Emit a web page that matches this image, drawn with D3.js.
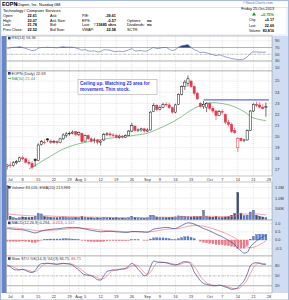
<!DOCTYPE html>
<html><head><meta charset="utf-8">
<script src="https://cdn.jsdelivr.net/npm/d3@7"></script>
<style>body{margin:0;background:#fff}svg{display:block}text{font-family:"Liberation Sans",Arial,sans-serif}</style>
</head><body><svg id="c" width="289" height="300"></svg>
<script>
// ---------- DATA ----------
const dates = ["2013-06-28",
"2013-07-01","2013-07-02","2013-07-03","2013-07-05","2013-07-08","2013-07-09","2013-07-10","2013-07-11","2013-07-12","2013-07-15","2013-07-16","2013-07-17","2013-07-18","2013-07-19","2013-07-22","2013-07-23","2013-07-24","2013-07-25","2013-07-26","2013-07-29","2013-07-30","2013-07-31",
"2013-08-01","2013-08-02","2013-08-05","2013-08-06","2013-08-07","2013-08-08","2013-08-09","2013-08-12","2013-08-13","2013-08-14","2013-08-15","2013-08-16","2013-08-19","2013-08-20","2013-08-21","2013-08-22","2013-08-23","2013-08-26","2013-08-27","2013-08-28","2013-08-29","2013-08-30",
"2013-09-03","2013-09-04","2013-09-05","2013-09-06","2013-09-09","2013-09-10","2013-09-11","2013-09-12","2013-09-13","2013-09-16","2013-09-17","2013-09-18","2013-09-19","2013-09-20","2013-09-23","2013-09-24","2013-09-25","2013-09-26","2013-09-27","2013-09-30",
"2013-10-01","2013-10-02","2013-10-03","2013-10-04","2013-10-07","2013-10-08","2013-10-09","2013-10-10","2013-10-11","2013-10-14","2013-10-15","2013-10-16","2013-10-17","2013-10-18","2013-10-21","2013-10-22","2013-10-23","2013-10-24","2013-10-25"];
const open = [17.30,17.45,17.40,17.65,17.75,18.10,18.00,17.70,17.60,17.95,17.85,19.30,19.50,19.80,19.60,19.50,19.55,19.45,19.80,20.10,20.25,20.30,20.45,20.20,20.30,19.60,20.10,19.80,19.65,19.70,19.50,19.70,20.20,20.25,20.15,20.10,19.95,20.05,19.95,20.10,20.50,20.95,20.55,20.60,20.70,20.50,20.60,22.25,22.80,22.45,22.60,22.90,22.85,22.60,22.20,22.90,23.80,24.50,24.80,25.00,24.50,23.90,23.00,22.70,22.60,23.00,22.55,22.30,21.90,22.25,22.00,21.30,21.10,20.55,19.00,19.85,19.65,19.70,20.55,22.30,22.90,22.85,22.65,22.61];
const high = [17.55,17.70,17.80,17.90,18.20,18.30,18.10,17.95,17.80,18.05,19.40,19.70,19.75,19.85,19.75,19.70,19.65,19.90,20.30,20.40,20.45,20.55,20.50,20.45,20.35,20.20,20.20,19.95,19.90,19.80,19.70,20.35,20.40,20.40,20.30,20.25,20.20,20.15,20.20,20.60,21.25,21.00,20.75,20.80,20.80,20.75,22.30,23.00,22.90,22.80,23.05,23.10,23.05,22.70,22.95,23.90,24.60,25.10,25.50,25.05,24.60,24.05,23.10,23.20,23.10,23.05,22.75,22.40,22.40,22.45,22.10,21.50,21.25,20.80,19.95,19.90,19.80,20.65,22.40,23.00,23.15,23.10,22.95,23.07];
const low = [17.05,17.20,17.30,17.50,17.70,17.85,17.60,17.45,17.05,17.30,17.80,19.20,19.30,19.50,19.35,19.40,19.30,19.40,19.70,19.90,20.10,20.20,20.05,20.05,19.40,19.55,19.70,19.45,19.40,19.30,19.20,19.60,20.05,20.00,19.95,19.85,19.80,19.85,19.90,20.05,20.40,20.45,20.40,20.45,20.35,20.40,20.55,22.20,22.30,22.35,22.55,22.70,22.50,22.05,22.10,22.85,23.70,24.20,24.50,24.40,23.70,23.30,22.60,22.50,22.20,22.40,22.10,21.50,21.85,22.00,21.10,20.90,20.30,20.25,18.60,19.55,19.50,19.65,20.50,22.20,22.65,22.55,22.45,21.78];
const close = [17.45,17.40,17.65,17.75,18.10,18.00,17.70,17.60,17.25,17.85,19.25,19.55,19.50,19.70,19.50,19.55,19.45,19.80,20.15,20.25,20.30,20.40,20.20,20.35,19.55,20.10,19.80,19.60,19.70,19.50,19.60,20.20,20.25,20.15,20.10,19.95,20.05,19.95,20.10,20.50,21.00,20.55,20.60,20.70,20.50,20.60,22.20,22.80,22.45,22.60,22.90,22.85,22.60,22.20,22.85,23.80,24.50,24.90,25.20,24.50,23.90,23.40,22.70,22.90,23.00,22.55,22.30,21.90,22.25,22.20,21.30,21.10,20.45,20.35,19.85,19.65,19.70,20.55,22.30,22.90,22.80,22.65,22.52,22.69];
const ma50 = [null,null,null,null,null,null,null,17.10,17.25,17.40,17.58,17.75,17.92,18.08,18.25,18.42,18.58,18.75,18.88,19.00,19.10,19.20,19.28,19.36,19.42,19.48,19.54,19.60,19.65,19.70,19.74,19.78,19.82,19.86,19.89,19.92,19.95,19.98,20.01,20.04,20.08,20.12,20.16,20.20,20.24,20.30,20.40,20.52,20.64,20.76,20.88,21.02,21.16,21.30,21.46,21.62,21.80,22.00,22.20,22.38,22.54,22.68,22.80,22.90,22.98,23.03,23.05,23.04,23.01,22.97,22.92,22.86,22.78,22.68,22.55,22.40,22.25,22.05,21.82,21.68,21.60,21.53,21.48,21.44];
const volume = [1600,150,90,60,80,120,100,90,110,150,280,260,140,120,100,90,80,110,120,100,80,90,100,90,140,100,80,90,70,80,70,110,90,80,70,90,60,70,60,80,150,110,80,70,60,80,200,190,120,100,110,90,100,110,120,170,160,150,130,120,140,130,150,430,150,120,110,150,100,90,120,140,200,280,1270,300,180,200,350,430,200,150,120,84];
const volEma = [260,250,235,220,205,195,185,175,170,165,175,180,175,170,162,155,148,143,140,135,130,125,122,118,120,118,114,111,107,104,100,101,100,98,95,95,91,89,86,86,92,94,92,90,87,86,97,106,107,107,108,106,106,107,108,114,118,121,122,122,124,125,128,157,156,152,148,148,144,139,137,137,143,156,262,265,257,252,260,275,262,245,228,214];
const rsi = [66,69,70.5,71,72,70,67,64,61,62,68,70,70,71,70,70,69,71,72,71,71,71,69,66,62,64,60,59,60,57,58,63,63,62,59,58,59,58,60,63,66,60,60,61,59,60,66,70,67,68,70,70,65,61,64,71,75,77,78,70,64,60,55,56,54,51,49,46,48,46,42,40,37,36,34,34,36,42,52,57,57,56,56,56.36];
const macd = [0.70,0.68,0.66,0.64,0.63,0.62,0.58,0.53,0.47,0.43,0.48,0.55,0.60,0.63,0.65,0.67,0.68,0.70,0.73,0.75,0.76,0.77,0.76,0.75,0.70,0.67,0.63,0.59,0.56,0.52,0.50,0.51,0.52,0.53,0.52,0.50,0.49,0.47,0.46,0.47,0.52,0.52,0.51,0.50,0.48,0.47,0.56,0.66,0.70,0.72,0.75,0.77,0.75,0.70,0.70,0.78,0.88,0.98,1.05,1.03,0.97,0.89,0.79,0.70,0.63,0.55,0.46,0.36,0.28,0.20,0.09,-0.02,-0.15,-0.28,-0.50,-0.66,-0.80,-0.75,-0.42,-0.22,-0.05,0.08,0.19,0.294];
const signal = [0.78,0.76,0.74,0.72,0.70,0.68,0.66,0.64,0.61,0.58,0.56,0.56,0.57,0.58,0.59,0.61,0.62,0.64,0.65,0.67,0.69,0.71,0.72,0.73,0.72,0.71,0.70,0.68,0.66,0.63,0.61,0.59,0.57,0.56,0.55,0.54,0.53,0.52,0.51,0.50,0.50,0.50,0.50,0.50,0.50,0.49,0.50,0.53,0.56,0.59,0.62,0.65,0.67,0.68,0.68,0.70,0.74,0.78,0.84,0.87,0.89,0.89,0.87,0.84,0.80,0.75,0.69,0.63,0.56,0.49,0.41,0.33,0.23,0.13,0.01,-0.15,-0.30,-0.42,-0.47,-0.45,-0.38,-0.28,-0.17,-0.053];
const stoK = [83,78,70,68,68,70,66,62,60,66,80,87,88,88,87,86,85,87,88,87,86,82,75,68,58,53,52,50,45,38,37,50,63,66,68,68,70,71,73,80,88,82,70,60,50,55,78,95,93,90,91,90,87,84,83,86,91,93,92,84,62,48,35,27,24,22,20,20,22,20,16,13,9,10,14,24,35,55,80,88,90,88,85,84.75];
const stoD = [80,80,77,72,69,69,68,66,63,63,69,78,85,88,88,87,86,86,87,87,87,85,81,75,67,60,54,52,49,44,40,42,50,60,66,67,69,70,71,75,80,83,80,71,60,55,61,76,89,93,91,90,89,87,85,84,87,90,92,90,79,65,48,37,29,24,22,21,21,21,19,16,13,11,11,16,24,38,57,74,86,89,88,86.71];
const tickDates = ["2013-07-01","2013-07-08","2013-07-15","2013-07-22","2013-07-29","2013-08-01","2013-08-05","2013-08-12","2013-08-19","2013-08-26","2013-09-03","2013-09-09","2013-09-16","2013-09-23","2013-10-01","2013-10-07","2013-10-14","2013-10-21","2013-10-28"];
const tickLabels = ["Jul","8","15","22","29","Aug","5","12","19","26","Sep","9","16","23","Oct","7","14","21","28"];
const priceTicks = [17,18,19,20,21,22,23,24,25];
const rsiTicks = [90,70,50,30,10];
const volTicks = [500000,1000000,1500000];
const volTickLabels = ["500K","1.0M","1.5M"];
const macdTicks = [1.0,0.5,0.0,-0.5];
const stoTicks = [80,50,20];
const resistance = {from:"2013-09-27", to:"2013-10-28", level:23.3};
const note = ["Ceiling up. Watching 23 area for","movement. Thin stock."];

// ---------- LAYOUT ----------
const svg = d3.select("#c");
const PL = 6.5, PR = 272;
const x = d3.scaleLinear().domain([0, 84]).range([7.1, 269]);
const idx = d => { const i = dates.indexOf(d); return i < 0 ? dates.length : i; };
const P = {
  rsi:{top:36,bot:71}, price:{top:71,bot:176}, vol:{top:182,bot:220},
  macd:{top:220,bot:256}, sto:{top:256,bot:293}
};
const yR = d3.scaleLinear().domain([0,100]).range([71.1,37.4]);
const yP = d3.scaleLinear().domain([17,25]).range([170,81]);
const yV = d3.scaleLinear().domain([0,1500000]).range([219.5,187.5]);
const yM = d3.scaleLinear().domain([0,1]).range([240,223.6]);
const yS = d3.scaleLinear().domain([0,100]).range([292.3,259.4]);

const NAVY = "#2b3f7a", RED = "#e8364a", PINK = "#f07a88", GREEN = "#3c9a3c";

// frame
svg.append("rect").attr("x",0.5).attr("y",0.5).attr("width",288).attr("height",299).attr("fill","#fff").attr("stroke","#a9bbdc");
svg.append("rect").attr("x",1.5).attr("y",36).attr("width",5).attr("height",257).attr("fill","#6586cc");
svg.append("rect").attr("x",PR).attr("y",36).attr("width",16).attr("height",257).attr("fill","#cfdcf2");
svg.append("rect").attr("x",1).attr("y",293).attr("width",287).attr("height",6.5).attr("fill","#fff");
svg.append("clipPath").attr("id","clip").append("rect").attr("x",PL).attr("y",36).attr("width",PR-PL).attr("height",257);

function panelBase(p, yTicks, yScale, fmt){
  const g = svg.append("g");
  g.append("rect").attr("x",PL).attr("y",p.top).attr("width",PR-PL).attr("height",p.bot-p.top).attr("fill","#fff");
  g.selectAll(null).data(tickDates).enter().append("line")
    .attr("x1",d=>x(idx(d))).attr("x2",d=>x(idx(d))).attr("y1",p.top).attr("y2",p.bot)
    .attr("stroke","#c8c8c8").attr("stroke-width",0.5).attr("stroke-dasharray","1,1");
  if (yTicks){
    g.selectAll(null).data(yTicks).enter().append("line")
      .attr("x1",PL).attr("x2",PR).attr("y1",d=>yScale(d)).attr("y2",d=>yScale(d))
      .attr("stroke","#c8c8c8").attr("stroke-width",0.5).attr("stroke-dasharray","1,1");
    svg.selectAll(null).data(yTicks).enter().append("text")
      .attr("x",275).attr("y",d=>yScale(d)+1.4).attr("font-size",3.9).attr("fill","#333")
      .text((d,i)=>fmt(d,i));
  }
  return g;
}
function frame(p){
  svg.append("rect").attr("x",PL).attr("y",p.top).attr("width",PR-PL).attr("height",p.bot-p.top)
    .attr("fill","none").attr("stroke","#8a8a8a").attr("stroke-width",0.5);
}
function legend(yy, parts){
  svg.append("rect").attr("x",8).attr("y",yy-2.6).attr("width",2.6).attr("height",2.6).attr("fill",NAVY);
  const t = svg.append("text").attr("x",11.5).attr("y",yy).attr("font-size",3.9);
  parts.forEach(p=>t.append("tspan").attr("fill",p[1]).text(p[0]));
}
const line = (ys, arr) => d3.line().defined(d=>d!=null).x((d,i)=>x(i)).y(d=>ys(d))(arr);

// ---------- HEADER ----------
const hd = svg.append("g");
hd.append("rect").attr("x",1).attr("y",7.5).attr("width",286).attr("height",27.5).attr("fill","#fff").attr("stroke","#b9c7e3").attr("stroke-width",0.5);
hd.append("text").attr("x",2).attr("y",5.8).attr("font-size",5.4).attr("font-weight","bold").text("EOPN");
hd.append("text").attr("x",15.5).attr("y",5.8).attr("font-size",4).text("E2open, Inc.  Nasdaq GM");
hd.append("text").attr("x",273).attr("y",4.2).attr("font-size",3.6).attr("text-anchor","end").attr("fill","#5d74a8").text("©StockCharts.com");
hd.append("text").attr("x",3).attr("y",12.2).attr("font-size",4).text("Technology / Computer Services");
const rows = [17.2,21.8,26.4,31];
const c1 = [["Open:","22.61"],["High:","23.07"],["Low:","21.78"],["Prev Close:","22.52"]];
const c2 = ["Ask:","Ask Size:","Bid:","Bid Size:"];
const c3 = [["P/E:","-39.61"],["EPS:","-0.57"],["Last:","15685 shrs"],["VWAP:","22.58"]];
const c4 = [["",""],["Options:","no"],["Dividends:","no"],["SCTR:",""]];
rows.forEach((yy,i)=>{
  hd.append("text").attr("x",3).attr("y",yy).attr("font-size",3.8).text(c1[i][0]);
  hd.append("text").attr("x",37).attr("y",yy).attr("font-size",3.8).attr("font-weight","bold").attr("text-anchor","end").text(c1[i][1]);
  hd.append("text").attr("x",50).attr("y",yy).attr("font-size",3.8).text(c2[i]);
  hd.append("text").attr("x",82).attr("y",yy).attr("font-size",3.8).text(c3[i][0]);
  if(i==2){
    hd.append("text").attr("x",93).attr("y",yy).attr("font-size",3.8).attr("fill","#2a9a2a").text("⇑");
  }
  hd.append("text").attr("x",116).attr("y",yy).attr("font-size",3.8).attr("font-weight","bold").attr("text-anchor","end").text(c3[i][1]);
  hd.append("text").attr("x",127).attr("y",yy).attr("font-size",3.8).text(c4[i][0]);
  hd.append("text").attr("x",147).attr("y",yy).attr("font-size",3.8).attr("font-weight","bold").text(c4[i][1]);
});
hd.append("text").attr("x",274).attr("y",10).attr("font-size",3.8).attr("text-anchor","end").text("Friday 25-Oct-2013");
hd.append("path").attr("d","M252,15.6 L254,12.2 L256,15.6 Z").attr("fill","#1f8f1f");
hd.append("text").attr("x",274).attr("y",15.6).attr("font-size",3.9).attr("font-weight","bold").attr("text-anchor","end").attr("fill","#1f8f1f").text("+0.75%");
[["Chg:","+0.17",21.3],["Last:","22.69",26.6],["Volume:","83,816",32]].forEach(r=>{
  hd.append("text").attr("x",249).attr("y",r[2]).attr("font-size",3.3).text(r[0]);
  hd.append("text").attr("x",274).attr("y",r[2]).attr("font-size",3.7).attr("font-weight","bold").attr("text-anchor","end").text(r[1]);
});

// ---------- RSI ----------
panelBase(P.rsi, rsiTicks, yR, d=>d);
const gr = svg.append("g").attr("clip-path","url(#clip)");
[70,30].forEach(l=>gr.append("line").attr("x1",PL).attr("x2",PR).attr("y1",yR(l)).attr("y2",yR(l)).attr("stroke","#888").attr("stroke-width",0.6));
gr.append("line").attr("x1",PL).attr("x2",PR).attr("y1",yR(50)).attr("y2",yR(50)).attr("stroke","#888").attr("stroke-width",0.5).attr("stroke-dasharray","2,1,0.5,1");
gr.append("path").attr("d",d3.area().x((d,i)=>x(i)).y0(yR(70)).y1(d=>yR(Math.max(d,70))).curve(d3.curveMonotoneX)(rsi)).attr("fill",NAVY);
gr.append("path").attr("d",d3.area().x((d,i)=>x(i)).y0(yR(30)).y1(d=>yR(Math.min(d,30))).curve(d3.curveMonotoneX)(rsi)).attr("fill",NAVY);
gr.append("path").attr("d",d3.line().x((d,i)=>x(i)).y(d=>yR(d)).curve(d3.curveMonotoneX)(rsi)).attr("fill","none").attr("stroke","#4a64a8").attr("stroke-width",0.6);
frame(P.rsi);
legend(39.4,[["RSI(14) 56.36","#333"]]);

// ---------- PRICE ----------
panelBase(P.price, priceTicks, yP, d=>d);
const gp = svg.append("g").attr("clip-path","url(#clip)");
gp.append("path").attr("d",line(yP,ma50)).attr("fill","none").attr("stroke",GREEN).attr("stroke-width",0.6);
const cand = gp.selectAll(null).data(dates).enter().append("g");
const colr = i => (i>0 && close[i]<close[i-1]) ? RED : "#111";
cand.append("line").attr("x1",(d,i)=>x(i)).attr("x2",(d,i)=>x(i)).attr("y1",(d,i)=>yP(high[i])).attr("y2",(d,i)=>yP(low[i]))
  .attr("stroke",(d,i)=>colr(i)).attr("stroke-width",0.6);
cand.append("rect").attr("x",(d,i)=>x(i)-1.1).attr("width",2.2)
  .attr("y",(d,i)=>yP(Math.max(open[i],close[i])))
  .attr("height",(d,i)=>Math.max(0.6,Math.abs(yP(open[i])-yP(close[i]))))
  .attr("fill",(d,i)=> close[i]>=open[i] ? "#fff" : colr(i))
  .attr("stroke",(d,i)=>colr(i)).attr("stroke-width",0.5);
gp.append("line").attr("x1",x(idx(resistance.from))).attr("x2",x(idx(resistance.to))).attr("y1",yP(resistance.level)).attr("y2",yP(resistance.level))
  .attr("stroke","#5b6cf0").attr("stroke-width",1.4);
frame(P.price);
legend(74.6,[["EOPN (Daily) 22.69","#333"]]);
svg.append("line").attr("x1",8).attr("x2",11).attr("y1",78.4).attr("y2",78.4).attr("stroke",GREEN).attr("stroke-width",0.8);
svg.append("text").attr("x",11.5).attr("y",79.6).attr("font-size",3.9).attr("fill",GREEN).text("MA(50) 21.44");
svg.append("rect").attr("x",78).attr("y",79.5).attr("width",79).attr("height",15).attr("fill","#fff").attr("stroke","#999").attr("stroke-width",0.5);
note.forEach((s,i)=>svg.append("text").attr("x",80).attr("y",85.2+i*5.8).attr("font-size",4.6).attr("font-weight","bold").attr("fill","#2b35e0").text(s));
svg.selectAll(null).data(tickDates).enter().append("text").attr("x",d=>x(idx(d))).attr("y",180.6)
  .attr("font-size",3.9).attr("text-anchor","middle").attr("fill","#333").text((d,i)=>tickLabels[i]);

// ---------- VOLUME ----------
panelBase(P.vol, volTicks, yV, (d,i)=>volTickLabels[i]);
const gv = svg.append("g").attr("clip-path","url(#clip)");
gv.selectAll(null).data(volume).enter().append("rect")
  .attr("x",(d,i)=>x(i)-1).attr("width",2).attr("y",d=>yV(d*1000)).attr("height",d=>yV(0)-yV(d*1000))
  .attr("fill",(d,i)=> (i>0 && close[i]<close[i-1]) ? "#3d4f78" : "#5b84d2").attr("stroke","#2c3a5e").attr("stroke-width",0.3);
gv.append("path").attr("d",d3.line().x((d,i)=>x(i)).y(d=>yV(d*1000))(volEma)).attr("fill","none").attr("stroke",PINK).attr("stroke-width",0.7);
frame(P.vol);
legend(188.6,[["Volume 83,026, EMA(20) 213,989","#333"]]);

// ---------- MACD ----------
panelBase(P.macd, macdTicks, yM, d=>d.toFixed(1));
const gm = svg.append("g").attr("clip-path","url(#clip)");
gm.selectAll(null).data(macd).enter().append("rect")
  .attr("x",(d,i)=>x(i)-1).attr("width",2)
  .attr("y",(d,i)=>Math.min(yM(0),yM(d-signal[i]))).attr("height",(d,i)=>Math.abs(yM(0)-yM(d-signal[i])))
  .attr("fill",(d,i)=> d-signal[i]>=0 ? "#5b84d2" : "#f08090").attr("stroke",(d,i)=> d-signal[i]>=0 ? "#3d5ea8":"#d84a5c").attr("stroke-width",0.3);
gm.append("path").attr("d",d3.line().x((d,i)=>x(i)).y(d=>yM(d)).curve(d3.curveMonotoneX)(signal)).attr("fill","none").attr("stroke",PINK).attr("stroke-width",0.7);
gm.append("path").attr("d",d3.line().x((d,i)=>x(i)).y(d=>yM(d)).curve(d3.curveMonotoneX)(macd)).attr("fill","none").attr("stroke","#34498a").attr("stroke-width",0.7);
frame(P.macd);
legend(224.2,[["MACD(12,26,9) 0.294, ","#333"],["-0.053","#e8364a"],[", ","#333"],["0.347","#6f95db"]]);

// ---------- STOCH ----------
panelBase(P.sto, stoTicks, yS, d=>d);
const gs = svg.append("g").attr("clip-path","url(#clip)");
[80,20].forEach(l=>gs.append("line").attr("x1",PL).attr("x2",PR).attr("y1",yS(l)).attr("y2",yS(l)).attr("stroke","#888").attr("stroke-width",0.6));
gs.append("line").attr("x1",PL).attr("x2",PR).attr("y1",yS(50)).attr("y2",yS(50)).attr("stroke","#888").attr("stroke-width",0.5).attr("stroke-dasharray","2,1,0.5,1");
gs.append("path").attr("d",d3.line().x((d,i)=>x(i)).y(d=>yS(d)).curve(d3.curveMonotoneX)(stoD)).attr("fill","none").attr("stroke",PINK).attr("stroke-width",0.7);
gs.append("path").attr("d",d3.line().x((d,i)=>x(i)).y(d=>yS(d)).curve(d3.curveMonotoneX)(stoK)).attr("fill","none").attr("stroke","#34498a").attr("stroke-width",0.7);
frame(P.sto);
legend(259.8,[["Slow STO %K(14,3) %D(3) 84.75, ","#333"],["86.71","#e8364a"]]);
svg.selectAll(null).data(tickDates).enter().append("text").attr("x",d=>x(idx(d))).attr("y",297.6)
  .attr("font-size",3.9).attr("text-anchor","middle").attr("fill","#333").text((d,i)=>tickLabels[i]);
</script></body></html>
